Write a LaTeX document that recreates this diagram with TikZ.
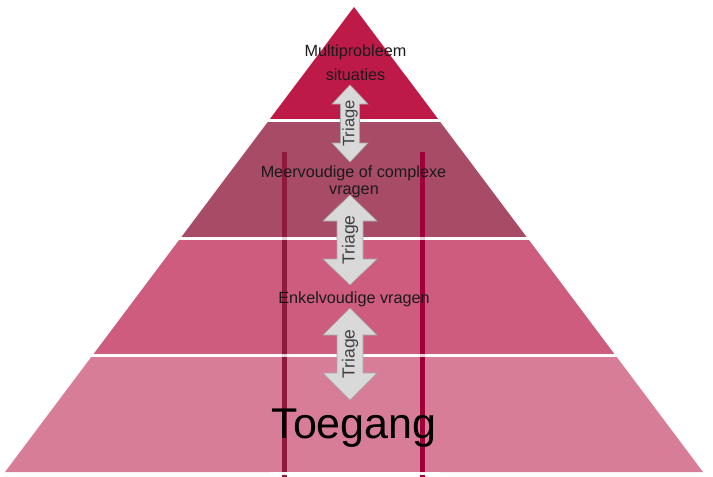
\documentclass[tikz,border=0pt]{standalone}
\usepackage{fontspec}
\setmainfont{Liberation Sans}
\definecolor{tierA}{HTML}{BD1A48}
\definecolor{tierB}{HTML}{A84B66}
\definecolor{tierC}{HTML}{CD5C7E}
\definecolor{tierD}{HTML}{D87D97}
\definecolor{lineL}{HTML}{8E1B3C}
\definecolor{lineR}{HTML}{A0003A}
\definecolor{arrowfill}{HTML}{D9D9D9}
\definecolor{arrowedge}{HTML}{A6A6A6}
\definecolor{triagecol}{HTML}{404040}
\definecolor{labelcol}{HTML}{1A1A1A}
\tikzset{
  arrowbox/.style={fill=arrowfill, draw=arrowedge, line width=0.6pt, line join=miter},
  triagetext/.style={rotate=90, text=triagecol, font=\fontsize{17.5}{17.5}\selectfont, inner sep=0pt},
  tierlabel/.style={anchor=base, text=labelcol, font=\fontsize{16.2}{16.2}\selectfont, inner sep=0pt},
  vline/.style={line width=5pt},
  gapveil/.style={fill=white, opacity=0.8}
}
\newcommand\triagearrow[8]{%
  \draw[arrowbox] (#1,#2) -- (#1+#5,#2+#4) -- (#1+#6,#2+#4) -- (#1+#6,#3-#4) -- (#1+#5,#3-#4)
    -- (#1,#3) -- (#1-#5,#3-#4) -- (#1-#6,#3-#4) -- (#1-#6,#2+#4) -- (#1-#5,#2+#4) -- cycle;
  \node[triagetext, #8] (#7) at (#1,{(#2+#3)/2}) {Triage};}
\begin{document}
\begin{tikzpicture}[x=1pt,y=-1pt]
\fill[white] (0,0) rectangle (713,477);
\useasboundingbox (0,0) rectangle (713,477);
% tiers
\fill[tierA] (354,7) -- (438.1,119) -- (269.9,119) -- cycle;
\fill[tierB] (267.7,122) -- (440.3,122) -- (526.6,237) -- (181.4,237) -- cycle;
\fill[tierC] (179.1,240) -- (528.9,240) -- (614.4,354) -- (93.6,354) -- cycle;
\fill[tierD] (91.3,357) -- (616.7,357) -- (703,472) -- (5,472) -- cycle;
% vertical lines
\coordinate (lt) at (284.5,152);
\coordinate (lb) at (284.5,477);
\coordinate (rt) at (422.5,152);
\coordinate (rb) at (422.5,477);
\draw[vline, lineL] (lt) -- (lb);
\draw[vline, lineR] (rt) -- (rb);
% white gaps over lines
\fill[gapveil] (270,119) rectangle (440,122);
\fill[gapveil] (180,237) rectangle (530,240);
\fill[gapveil] (90,354) rectangle (620,357);
\fill[white, opacity=0.95] (270,472) rectangle (440,475);
% labels
\node[tierlabel] (multi) at (355.5,56) {Multiprobleem};
\node[tierlabel] (situ) at (355.5,80) {situaties};
\node[tierlabel] (meer) at (353.5,177) {Meervoudige of complexe};
\node[tierlabel] (vrag) at (354,194) {vragen};
\node[tierlabel] (enkel) at (354,303) {Enkelvoudige vragen};
\node[tierlabel, font=\fontsize{43}{43}\selectfont, text=black] (toeg) at (354,438) {Toegang};
% arrows
\triagearrow{350}{85}{162}{19}{18}{9.5}{tr1}{font=\fontsize{16.5}{16.5}\selectfont}
\triagearrow{350}{195}{285}{26}{27}{13}{tr2}{}
\triagearrow{350}{308}{400}{27}{27}{13}{tr3}{}
\end{tikzpicture}
\end{document}
